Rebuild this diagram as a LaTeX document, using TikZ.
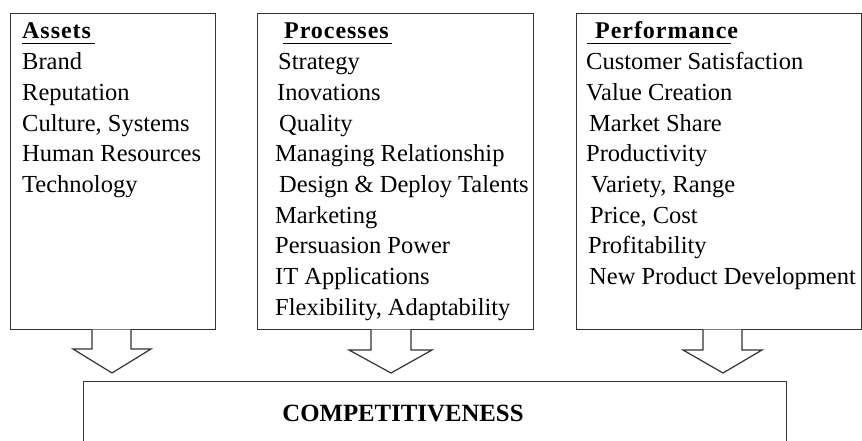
\documentclass[tikz,border=0pt]{standalone}
\usepackage{fontspec}
\setmainfont{LiberationSerif}[Extension=.ttf, UprightFont=*-Regular, BoldFont=*-Bold, ItalicFont=*-Italic, BoldItalicFont=*-BoldItalic]
\begin{document}
\begin{tikzpicture}[x=1pt,y=-1pt,
  box/.style={draw=black!80, line width=1.2pt, fill=white, inner sep=0pt, anchor=north west},
  item/.style={anchor=base west, inner sep=0pt, font=\fontsize{24.5}{28}\selectfont},
  headtext/.style={anchor=base west, inner sep=0pt, font=\fontsize{24}{28}\selectfont\bfseries\addfontfeature{LetterSpace=4}},
  uline/.style={line width=1.5pt, black},
  blockarrow/.style={draw=black!80, line width=1.2pt, fill=white, line join=miter}]
\useasboundingbox (0,0) rectangle (862,441);
\clip (0,0) rectangle (862,441);
\fill[white] (0,0) rectangle (862,441);
% boxes
\node[box, minimum width=205pt, minimum height=315.5pt] (assets) at (10,13) {};
\node[box, minimum width=276pt, minimum height=315.5pt] (proc) at (257,13) {};
\node[box, minimum width=285pt, minimum height=315.5pt] (perf) at (576,13) {};
\node[box, minimum width=703pt, minimum height=90pt] (comp) at (83,381) {};
% headers
\node[headtext] (ha) at (22,39) {Assets};
\node[headtext] (hp) at (284,39) {Processes};
\node[headtext] (hf) at (595,39) {Performance};
\draw[uline] (22,43.5) -- (95,43.5);
\draw[uline] (283,43.5) -- (392,43.5);
\draw[uline] (587,43.5) -- (731,43.5);
% items
\foreach \dx/\t [count=\i] in {22/Brand, 22/Reputation, 22/{Culture, Systems}, 22/Human Resources, 22/Technology}
  \node[item] (a\i) at (\dx,{39+30.7*\i}) {\t};
\foreach \dx/\t [count=\i] in {278/Strategy, 277/Inovations, 279/Quality, 275/Managing Relationship, 279/Design \& Deploy Talents, 275/Marketing, 275/Persuasion Power, 275/IT Applications, 275/{Flexibility, Adaptability}}
  \node[item] (p\i) at (\dx,{39+30.7*\i}) {\t};
\foreach \dx/\t [count=\i] in {586/Customer Satisfaction, 586/Value Creation, 589/Market Share, 586/Productivity, 591/{Variety, Range}, 590/{Price, Cost}, 588/Profitability, 589/New Product Development}
  \node[item] (f\i) at (\dx,{39+30.7*\i}) {\t};
% bottom text
\node[anchor=base, inner sep=0pt, font=\fontsize{24.8}{28}\selectfont\bfseries] (ct) at (403,421) {COMPETITIVENESS};
% block arrows
\draw[blockarrow] (92,0 |- assets.south) -- (92,349) -- (73,349) -- (112,373) -- (151,349) -- (131,349) -- (131,0 |- assets.south);
\draw[blockarrow] (371,0 |- proc.south) -- (371,350) -- (349,350) -- (391,373) -- (432,350) -- (411,350) -- (411,0 |- proc.south);
\draw[blockarrow] (703,0 |- perf.south) -- (703,350) -- (683,350) -- (723,373) -- (762,350) -- (742,350) -- (742,0 |- perf.south);
\end{tikzpicture}
\end{document}
